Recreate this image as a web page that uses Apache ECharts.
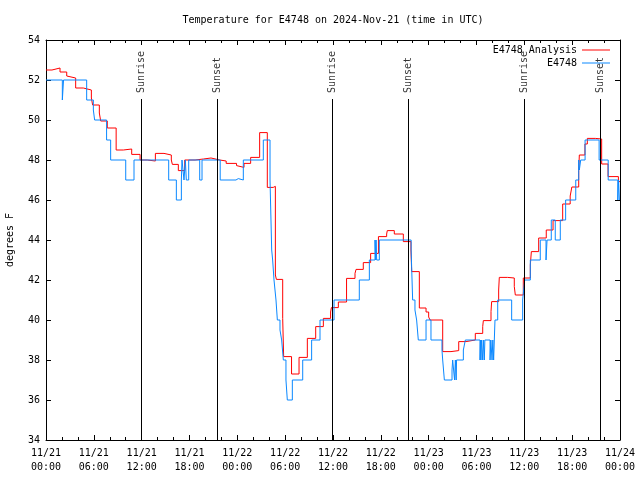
<!DOCTYPE html>
<html><head><meta charset="utf-8">
<script src="https://cdn.jsdelivr.net/npm/echarts/dist/echarts.min.js"></script>
<style>html,body{margin:0;padding:0;background:#fff}#c{width:640px;height:480px}</style>
</head><body><div id="c"></div>
<script>
const titleText = 'Temperature for E4748 on 2024-Nov-21 (time in UTC)';
const yAxisName = 'degrees F';
const seriesNames = ['E4748 Analysis', 'E4748'];
const xTickDates = ['11/21', '11/22', '11/23', '11/24'];

// hours since 2024-11-21 00:00 UTC, value holds from that hour until the next
const analysisHours = [0, 0.75, 1.76, 2.6, 2.76, 3.72, 4.68, 5.69, 5.85, 6.69, 6.86, 7.69, 8.8, 9.7, 10.75, 11.8, 12.7, 13.72, 14.8, 15.72, 15.85, 16.6, 17.4, 18.7, 19.75, 20.7, 21.8, 22.6, 23.9, 24.1, 24.84, 25.67, 26.8, 27.76, 28.5, 28.77, 28.9, 29.69, 29.81, 30.8, 31.74, 32.78, 33.83, 34.79, 35.7, 35.8, 36.67, 37.7, 38.76, 38.89, 39.8, 40.72, 41.7, 42.73, 42.81, 43.69, 44.82, 45.78, 45.87, 46.83, 47.67, 48.0, 48.17, 49.76, 50.8, 51.77, 52.69, 53.85, 54.78, 54.86, 55.82, 55.9, 56.78, 56.86, 57.91, 58.74, 58.87, 59.87, 60.75, 60.88, 61.8, 62.75, 63.6, 64.81, 65.75, 65.96, 66.82, 66.9, 67.6, 67.9, 68.9, 69.7, 70.5, 71.8, 72];
const analysisTemps = [52.5, 52.6, 52.4, 52.2, 52.1, 51.6, 51.5, 51.1, 50.75, 50.35, 49.95, 49.6, 48.5, 48.55, 48.28, 48.0, 47.95, 48.33, 48.25, 48.0, 47.78, 47.47, 48.0, 48.05, 48.1, 48.0, 47.95, 47.83, 47.72, 47.63, 47.83, 48.13, 49.37, 46.63, 46.68, 42.25, 42.03, 40.08, 38.17, 37.3, 38.13, 39.08, 39.67, 40.08, 40.4, 40.62, 40.9, 42.08, 42.33, 42.53, 42.87, 43.33, 44.17, 44.3, 44.47, 44.3, 43.92, 43.5, 42.42, 40.6, 40.4, 40.15, 40.0, 38.42, 38.47, 38.92, 39.0, 39.33, 39.67, 39.97, 40.42, 40.92, 41.5, 42.13, 42.1, 41.67, 41.25, 42.1, 42.75, 43.42, 44.1, 44.5, 44.97, 45.8, 46.2, 46.65, 47.47, 48.25, 48.8, 49.08, 49.05, 47.8, 47.17, 46.92, 46.92];

const stationHours = [0, 2.05, 2.2, 5.1, 5.94, 6.1, 7.6, 8.11, 10.0, 11.04, 15.39, 16.35, 16.98, 17.06, 17.31, 17.48, 17.6, 17.9, 19.28, 19.57, 21.85, 23.83, 24.12, 24.75, 27.26, 28.1, 28.31, 28.43, 28.6, 28.85, 29.02, 29.35, 29.56, 29.77, 30.1, 30.27, 30.9, 32.2, 33.32, 34.37, 36.13, 39.3, 40.56, 41.27, 41.35, 41.4, 41.48, 41.81, 45.8, 45.99, 46.28, 46.49, 46.7, 47.67, 48.29, 49.67, 49.76, 49.97, 50.93, 51.01, 51.25, 51.35, 51.45, 51.5, 52.35, 52.6, 54.44, 54.5, 54.56, 54.62, 54.78, 54.85, 54.98, 55.05, 55.7, 55.8, 55.95, 56.05, 56.15, 56.32, 56.66, 58.41, 59.79, 60.04, 60.75, 62.0, 62.72, 62.85, 63.38, 63.88, 64.51, 65.18, 66.45, 66.82, 66.9, 67.07, 67.62, 69.38, 70.52, 71.72, 71.82, 71.92, 72];
const stationTemps = [52.0, 51.0, 52.0, 51.0, 50.5, 50.0, 49.0, 48.0, 47.0, 48.0, 47.0, 46.0, 47.0, 48.0, 47.0, 48.0, 47.0, 48.0, 47.0, 48.0, 47.0, 47.07, 47.0, 48.0, 49.0, 47.0, 43.5, 43.0, 42.0, 41.0, 40.0, 39.5, 39.0, 38.0, 37.0, 36.0, 37.0, 38.0, 39.0, 40.0, 41.0, 42.0, 43.0, 44.0, 43.0, 44.0, 43.0, 44.0, 43.5, 41.0, 40.5, 40.0, 39.0, 40.0, 39.0, 38.5, 38.0, 37.0, 37.5, 38.0, 37.0, 38.0, 37.0, 38.0, 38.5, 39.0, 38.0, 39.0, 38.0, 39.0, 38.0, 39.0, 38.0, 39.0, 38.0, 39.0, 38.0, 39.0, 38.0, 40.0, 41.0, 40.0, 41.0, 42.0, 43.0, 44.0, 43.0, 44.0, 45.0, 44.0, 45.0, 46.0, 47.0, 48.0, 47.5, 48.0, 49.0, 48.0, 47.0, 46.0, 47.0, 46.0, 46.0];

const eventHours = [11.92, 21.49, 35.92, 45.45, 60.0, 69.53];
const eventNames = ['Sunrise', 'Sunset', 'Sunrise', 'Sunset', 'Sunrise', 'Sunset'];

const FONT = 'DejaVu Sans Mono';
const lineTop = 51.05, labelBase = 51.35;

function pairs(xs, ys) { return xs.map((x, i) => [x, ys[i]]); }

const chart = echarts.init(document.getElementById('c'), null, {renderer: 'canvas'});
const tickCommon = {show: true, inside: true, length: 5, lineStyle: {color: '#000', width: 1}};
const minorCommon = {show: true, splitNumber: 3, length: 3, lineStyle: {color: '#000', width: 1}};
const axisLineCommon = {show: true, onZero: false, lineStyle: {color: '#000', width: 1}};

chart.setOption({
  animation: false,
  backgroundColor: '#fff',
  title: {text: titleText, left: 333, top: 15, padding: 0, textAlign: 'center',
    textStyle: {fontFamily: FONT, fontSize: 10, fontWeight: 'normal', color: '#000'}},
  legend: {show: true, orient: 'vertical', right: 30, top: 45, padding: 0, align: 'right',
    icon: 'rect', itemWidth: 28, itemHeight: 1, itemGap: 3, data: seriesNames,
    textStyle: {fontFamily: FONT, fontSize: 10, color: '#000'}},
  grid: {left: 46, right: 20, top: 40, bottom: 40, containLabel: false, outerBoundsMode: 'none'},
  xAxis: [
    {type: 'value', position: 'bottom', min: 0, max: 72, interval: 6,
      axisLine: axisLineCommon, axisTick: tickCommon, minorTick: minorCommon,
      splitLine: {show: false},
      axisLabel: {show: true, margin: 6, fontFamily: FONT, fontSize: 10, lineHeight: 14, color: '#000',
        showMinLabel: true, showMaxLabel: true,
        formatter: v => { const d = Math.floor(v / 24 + 1e-9); const h = Math.round(v - d * 24); return xTickDates[d] + '\n' + String(h).padStart(2, '0') + ':00'; }}},
    {type: 'value', position: 'top', min: 0, max: 72, interval: 6,
      axisLine: axisLineCommon, axisTick: tickCommon, minorTick: minorCommon,
      splitLine: {show: false}, axisLabel: {show: false}}
  ],
  yAxis: [
    {type: 'value', position: 'left', min: 34, max: 54, interval: 2,
      name: yAxisName, nameLocation: 'middle', nameGap: 31, nameRotate: 90,
      nameTextStyle: {fontFamily: FONT, fontSize: 10, color: '#000'},
      axisLine: axisLineCommon, axisTick: tickCommon, splitLine: {show: false},
      axisLabel: {margin: 6, fontFamily: FONT, fontSize: 10, color: '#000'}},
    {type: 'value', position: 'right', min: 34, max: 54, interval: 2,
      axisLine: axisLineCommon, axisTick: tickCommon, splitLine: {show: false},
      axisLabel: {show: false}}
  ],
  series: [
    {type: 'line', name: '__events', data: [], silent: true,
      markLine: {silent: true, symbol: ['none', 'none'], animation: false,
        lineStyle: {color: '#000', width: 1, type: 'solid'}, label: {show: false},
        data: eventHours.map(h => [{coord: [h, 34]}, {coord: [h, lineTop]}])}},
    {type: 'scatter', name: '__labels', silent: true, symbolSize: 1,
      itemStyle: {color: 'rgba(0,0,0,0)'},
      data: eventHours.map((h, i) => ({value: [h, labelBase], name: eventNames[i]})),
      label: {show: true, position: 'inside', align: 'left', verticalAlign: 'middle', rotate: 90,
        formatter: p => p.name, fontFamily: FONT, fontSize: 10, color: '#000'}},
    {type: 'line', name: seriesNames[0], step: 'end', symbol: 'none', showSymbol: false,
      data: pairs(analysisHours, analysisTemps),
      itemStyle: {color: '#ff0000'}, lineStyle: {color: '#ff0000', width: 1}},
    {type: 'line', name: seriesNames[1], step: 'end', symbol: 'none', showSymbol: false,
      data: pairs(stationHours, stationTemps),
      itemStyle: {color: '#0a88ff'}, lineStyle: {color: '#0a88ff', width: 1}}
  ]
});
</script></body></html>
